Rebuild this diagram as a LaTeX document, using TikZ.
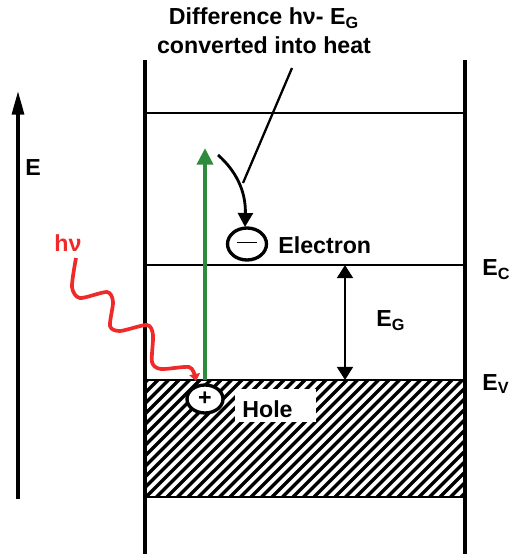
\documentclass[tikz,border=0pt]{standalone}
\usepackage{fontspec}
\setmainfont{Liberation Sans}
\usetikzlibrary{arrows.meta,positioning,shapes.geometric}
\definecolor{photonRed}{HTML}{EE2A2A}
\definecolor{excGreen}{HTML}{2E8B3C}

\begin{document}
\begin{tikzpicture}[x=0.02cm,y=-0.02cm,
  font=\fontsize{13.2}{16.5}\selectfont\bfseries,
  wall/.style={line width=2.8pt},
  level/.style={line width=1.1pt},
  lbl/.style={inner sep=0pt,anchor=west},
  carrier/.style={ellipse,draw,line width=1.9pt,inner sep=0pt,fill=white}]
\useasboundingbox (0,0) rectangle (514,554);
% --- band levels ---
  \coordinate (lwTop) at (145,60);  \coordinate (lwBot) at (145,554);
  \coordinate (rwTop) at (465,60);  \coordinate (rwBot) at (465,554);
  \coordinate (topL) at (145,113);  \coordinate (topR) at (465,113);
  \coordinate (ecL) at (145,265);   \coordinate (ecR) at (465,265);
  \coordinate (evL) at (145,380);   \coordinate (evR) at (465,380);
  \coordinate (botL) at (145,497);  \coordinate (botR) at (465,497);
% --- valence band hatching ---
  \begin{scope}
    \clip (evL) rectangle (botR);
    \foreach \x in {20,30.5,...,470}
      \draw[line width=2pt] (\x,497) -- (\x+117,380);
  \end{scope}
  \draw[level] (topL) -- (topR);
  \draw[level] (ecL) -- (ecR);
  \draw[level] (evL) -- (evR);
  \draw[level] (botL) -- (botR);
  \draw[wall] (lwTop) -- (lwBot);
  \draw[wall] (rwTop) -- (rwBot);
% --- energy axis ---
  \coordinate (eBot) at (18,499);
  \coordinate (eTop) at (18,90);
  \draw[line width=2.6pt,-{Triangle[length=14pt,width=6.5pt]}] (eBot) -- (eTop);
  \node[lbl] (eLbl) at (25,168) {E};
% --- gap ---
  \coordinate (gapTop) at (345,265);
  \coordinate (gapBot) at (345,380);
  \draw[line width=1.6pt,{Triangle[length=7.5pt,width=9pt]}-{Triangle[length=7.5pt,width=9pt]}] (gapTop) -- (gapBot);
  \node[lbl] (eg) at (376,321) {E\textsubscript{G}};
  \node[lbl] (ec) at (482,270) {E\textsubscript{C}};
  \node[lbl] (ev) at (482,384) {E\textsubscript{V}};
% --- carriers ---
  \node[carrier,minimum width=0.78cm,minimum height=0.64cm] (elec) at (247,244) {\rule[0.3ex]{1.6ex}{0.4pt}};
  \node[lbl] (elecLbl) at (278,245) {Electron};
  \fill[white] (235,389) rectangle (316,422);
  \node[lbl] (holeLbl) at (242,409) {Hole};
% --- excitation ---
  \coordinate (excBot) at (205,380);
  \coordinate (excTop) at (205,148);
  \draw[excGreen,line width=2.4pt,-{Triangle[length=9.5pt,width=9pt]}] (excBot) -- (excTop);
  \node[carrier,minimum width=0.72cm,minimum height=0.56cm] (hole) at (205,399) {+};
% --- photon ---
  \node[photonRed] (hnu) at (68,243) {hν};
  \coordinate (phEnd) at (196,381);
  \draw[photonRed,line width=2.1pt,-{Triangle[length=4pt,width=6pt]}]
    plot[smooth,tension=0.45] coordinates {(76,258) (72,287) (80,298) (107,292) (113,302)
      (110,326) (120,331) (147,325) (153,335) (152,362) (161,369) (189,367) (195,376)} -- (phEnd);
% --- heat ---
  \node[align=center] (heat) at (264,31) {Difference hν- E\textsubscript{G}\\converted into heat};
  \coordinate (heatA) at (292,68);
  \coordinate (heatB) at (243,183);
  \draw[line width=1.3pt] (heatA) -- (heatB);
  \coordinate (relaxA) at (218,155);
  \coordinate (relaxB) at (245,227);
  \draw[line width=1.6pt,-{Triangle[length=8pt,width=8.5pt]}] (relaxA) .. controls (235,170) and (246,190) .. (relaxB);
\end{tikzpicture}
\end{document}
